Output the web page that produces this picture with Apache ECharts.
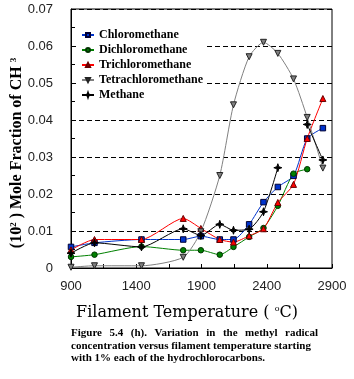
<!DOCTYPE html>
<html>
<head>
<meta charset="utf-8">
<script src="https://cdn.jsdelivr.net/npm/echarts@6/dist/echarts.min.js"></script>
<style>
  html, body { margin: 0; padding: 0; background: #fff; }
  #chart { width: 354px; height: 379px; }
</style>
</head>
<body>
<div id="chart"></div>
<script>
// filament temperature (°C)
var temps = [900, 1080, 1440, 1760, 1895, 2040, 2145, 2265, 2375, 2485, 2605, 2710, 2830];
var chloromethane = [0.0057, 0.0068, 0.0077, 0.0077, 0.0086, 0.0077, 0.0077, 0.0118, 0.0178, 0.0219, 0.0249, 0.0350, 0.0378];
var dichloromethane = [0.0030, 0.0036, 0.0058, 0.0048, 0.0048, 0.0036, 0.0057, 0.0084, 0.0108, 0.0168, 0.0255, 0.0267, null];
var trichloromethane = [0.0049, 0.0077, 0.0077, 0.0134, 0.0107, 0.0077, 0.0070, 0.0087, 0.0106, 0.0177, 0.0226, 0.0350, 0.0458];
var tetrachloromethane = [0.0002, 0.0006, 0.0006, 0.0029, 0.0098, 0.0250, 0.0441, 0.0571, 0.0610, 0.0580, 0.0511, 0.0407, 0.0270];
var methane = [0.0040, 0.0068, 0.0057, 0.0106, 0.0088, 0.0118, 0.0102, 0.0105, 0.0152, 0.0271, null, 0.0388, 0.0292];
var xLabels = [900, 1400, 1900, 2400, 2900];
var xTicks = [900, 1150, 1400, 1650, 1900, 2150, 2400, 2650, 2900];

var caption1 = 'Figure 5.4 (h). Variation in the methyl radical';
var caption2 = 'concentration versus filament temperature starting';
var caption3 = 'with 1% each of the hydrochlorocarbons.';

var starPath = 'path://M0,-10 L2.5,-2.5 L10,0 L2.5,2.5 L0,10 L-2.5,2.5 L-10,0 L-2.5,-2.5 Z';
var capFont = 'bold 11px "Liberation Serif"';

function pairs(vals) {
  return temps.map(function (t, i) { return [t, vals[i]]; });
}

function mkSeries(name, vals, color, symbol, size, border) {
  return {
    name: name,
    type: 'line',
    data: pairs(vals),
    smooth: 0.22,
    connectNulls: false,
    symbol: symbol,
    symbolSize: size,
    lineStyle: { color: color, width: 1 },
    itemStyle: { color: color, borderColor: border, borderWidth: 1 },
    emphasis: { disabled: true }
  };
}

// spread the words of a line over a given width (justified caption line)
function justified(line, x0, width, y) {
  var ctx = document.createElement('canvas').getContext('2d');
  ctx.font = capFont;
  var words = line.split(' ');
  var total = 0;
  words.forEach(function (w) { total += ctx.measureText(w).width; });
  var gap = (width - total) / (words.length - 1);
  var x = x0;
  return words.map(function (w) {
    var el = {
      type: 'text', x: x, y: y,
      style: { text: w, verticalAlign: 'middle', font: capFont, fill: '#000' }
    };
    x += ctx.measureText(w).width + gap;
    return el;
  });
}

var chart = echarts.init(document.getElementById('chart'));
chart.setOption({
  animation: false,
  backgroundColor: '#fff',
  grid: {
    left: 71, top: 9, right: 22, bottom: 111,
    show: true, borderColor: '#000', borderWidth: 1, backgroundColor: 'transparent'
  },
  legend: {
    left: 79, top: 27,
    orient: 'vertical',
    itemWidth: 12, itemHeight: 5, itemGap: 3,
    backgroundColor: '#fff',
    padding: [2, 4, 2, 2],
    textStyle: { fontFamily: 'Liberation Serif', fontWeight: 'bold', fontSize: 12, color: '#000' },
    data: ['Chloromethane', 'Dichloromethane', 'Trichloromethane', 'Tetrachloromethane', 'Methane']
  },
  xAxis: {
    type: 'value', min: 900, max: 2900,
    axisLine: { show: true, lineStyle: { color: '#000', width: 1 } },
    axisTick: { show: true, inside: true, length: 4, lineStyle: { color: '#000' }, customValues: xTicks },
    axisLabel: {
      customValues: xLabels, margin: 12, color: '#222', fontFamily: 'Liberation Sans', fontSize: 13,
      formatter: function (v) { return String(v); }
    },
    splitLine: { show: false }
  },
  yAxis: {
    type: 'value', min: 0, max: 0.07, interval: 0.01,
    axisLine: { show: true, lineStyle: { color: '#000', width: 1 } },
    axisTick: { show: true, inside: true, length: 4, lineStyle: { color: '#000' } },
    minorTick: { show: true, splitNumber: 2, length: 4, lineStyle: { color: '#000' } },
    axisLabel: {
      margin: 18, color: '#222', fontFamily: 'Liberation Sans', fontSize: 13,
      formatter: function (v) { return v === 0 ? '0' : v.toFixed(2); }
    },
    splitLine: { show: true, lineStyle: { color: '#000', type: [5, 3], width: 1 } }
  },
  series: [
    mkSeries('Chloromethane', chloromethane, '#0033cc', 'rect', 5.5, '#000033'),
    mkSeries('Dichloromethane', dichloromethane, '#008000', 'circle', 5.5, '#003300'),
    mkSeries('Trichloromethane', trichloromethane, '#ff0000', 'triangle', 6, '#660000'),
    Object.assign(mkSeries('Tetrachloromethane', tetrachloromethane, '#808080', 'triangle', 6, '#222'), { symbolRotate: 180 }),
    mkSeries('Methane', methane, '#000', starPath, 8, '#000')
  ],
  graphic: [
    {
      type: 'text', x: 17, y: 153, rotation: Math.PI / 2,
      style: {
        text: '(10{sup|2} ) Mole Fraction of CH {sup|3}',
        align: 'center', verticalAlign: 'middle',
        fontFamily: 'Liberation Serif', fontWeight: 'bold', fontSize: 16, fill: '#000',
        rich: {
          sup: { fontSize: 9, verticalAlign: 'top', fontFamily: 'Liberation Serif', fontWeight: 'bold', fill: '#000' }
        }
      }
    },
    {
      type: 'text', x: 187, y: 313,
      style: {
        text: 'Filament Temperature ( {sup|o}C)',
        align: 'center', verticalAlign: 'middle',
        fontFamily: 'DejaVu Serif', fontSize: 16, fill: '#000',
        rich: { sup: { fontSize: 8, verticalAlign: 'top', fontFamily: 'DejaVu Serif', fill: '#000' } }
      }
    },
    {
      type: 'text', x: 71, y: 346,
      style: { text: caption2, verticalAlign: 'middle', font: capFont, fill: '#000' }
    },
    {
      type: 'text', x: 71, y: 358,
      style: { text: caption3, verticalAlign: 'middle', font: capFont, fill: '#000' }
    }
  ].concat(justified(caption1, 71, 247, 333))
});
</script>
</body>
</html>
